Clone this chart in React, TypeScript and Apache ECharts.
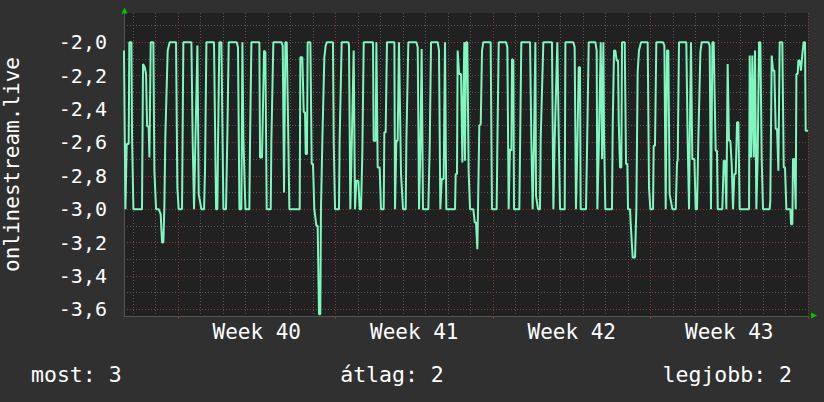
import React, { useEffect, useRef } from "react";
import * as echarts from "echarts";

// ---- data (hours relative to Monday 00:00 of Week 40) ----
const seriesName = "onlinestream.live";
const xMinHour = -57.6;
const xMaxHour = 672;
const yMin = -3.64;
const yMax = -1.825;

const weekStartHours = [0, 168, 336, 504, 672];
const weekMidHours = [84, 252, 420, 588];
const weekLabels = ["Week 40", "Week 41", "Week 42", "Week 43"];
const dayHours = [
  -48, -24, 0, 24, 48, 72, 96, 120, 144, 168, 192, 216, 240, 264, 288, 312, 336,
  360, 384, 408, 432, 456, 480, 504, 528, 552, 576, 600, 624, 648, 672,
];
const yMajorValues = [-2.0, -2.2, -2.4, -2.6, -2.8, -3.0, -3.2, -3.4, -3.6];
const yMinorValues = [-1.9, -2.1, -2.3, -2.5, -2.7, -2.9, -3.1, -3.3, -3.5];
const legendTexts = ["most: 3", "átlag: 2", "legjobb: 2"];

const sampleHours = [
  -57.6, -56.1, -54.7, -52.6, -51.9, -49.7, -49.0, -47.6, -38.4, -37.3, -35.5, -34.1,
  -33.0, -31.3, -30.5, -29.1, -26.3, -25.2, -23.4, -20.6, -18.5, -17.0, -15.6, -14.5,
  -13.5, -11.0, -8.9, -2.1, -0.7, 0.7, 4.3, 5.7, 14.3, 15.7, 17.1, 18.5, 20.7, 22.1,
  24.9, 27.8, 28.8, 30.3, 38.4, 40.6, 42.0, 42.7, 44.1, 46.3, 48.4, 51.2, 52.7, 54.1,
  62.6, 64.0, 65.5, 67.6, 68.7, 69.7, 71.9, 76.1, 76.8, 78.3, 86.8, 87.5, 89.6, 91.8,
  93.2, 94.6, 98.9, 99.6, 101.7, 110.3, 111.7, 113.1, 114.5, 116.0, 117.4, 118.8,
  129.8, 130.5, 132.6, 134.1, 135.5, 136.2, 137.6, 138.3, 141.2, 142.6, 144.0, 145.4,
  146.1, 147.6, 149.0, 150.4, 151.8, 152.5, 154.0, 156.1, 157.5, 158.9, 165.3, 166.1,
  167.5, 171.7, 172.4, 174.6, 181.7, 182.4, 183.8, 185.3, 187.4, 188.8, 190.2, 192.4,
  193.8, 195.2, 196.6, 198.1, 208.0, 208.7, 210.9, 211.6, 213.0, 215.1, 216.5, 219.4,
  220.1, 221.5, 222.9, 230.8, 231.5, 232.9, 234.3, 235.7, 237.9, 240.0, 242.9, 243.6,
  245.7, 254.2, 255.7, 257.1, 258.5, 259.9, 261.3, 267.0, 268.5, 269.9, 277.0, 278.4,
  279.8, 281.3, 283.4, 284.8, 286.2, 295.5, 296.2, 297.6, 298.3, 299.8, 301.9, 303.3,
  305.4, 306.1, 307.2, 308.6, 310.0, 311.5, 315.0, 316.5, 317.9, 319.3, 320.0, 321.4,
  322.9, 324.3, 325.7, 333.5, 334.9, 339.9, 340.6, 341.3, 342.1, 349.9, 351.3, 352.7,
  354.1, 355.6, 356.3, 357.7, 358.4, 364.1, 364.8, 366.2, 375.5, 376.9, 378.3, 379.7,
  381.2, 381.9, 384.0, 386.1, 386.9, 389.7, 398.9, 400.4, 401.8, 404.6, 406.1, 407.5,
  412.5, 413.2, 421.7, 423.1, 424.5, 426.0, 427.4, 428.8, 429.5, 435.2, 436.6, 438.1,
  445.2, 446.6, 447.3, 448.7, 450.9, 452.3, 453.7, 454.4, 455.8, 462.9, 463.7, 465.1,
  466.5, 467.9, 469.4, 470.1, 471.5, 472.9, 473.6, 476.5, 477.9, 479.3, 480.0, 482.2,
  482.9, 485.0, 487.5, 488.9, 490.3, 491.7, 493.9, 501.0, 502.4, 503.8, 506.7, 507.4,
  508.8, 510.2, 517.3, 518.8, 520.2, 521.6, 523.0, 524.4, 527.3, 530.9, 532.3, 533.0,
  534.4, 542.2, 543.7, 545.1, 545.8, 547.2, 548.6, 550.8, 552.2, 553.6, 555.0, 557.2,
  558.6, 565.7, 567.1, 568.5, 570.0, 571.4, 573.5, 574.9, 575.7, 580.6, 582.1, 583.5,
  584.9, 586.3, 587.7, 589.2, 590.6, 592.0, 593.4, 594.9, 596.3, 597.7, 599.1, 609.1,
  609.8, 611.2, 612.6, 614.1, 615.5, 616.9, 618.3, 619.8, 621.2, 622.6, 624.0, 631.1,
  631.8, 633.3, 634.7, 636.1, 637.5, 639.0, 640.4, 641.8, 644.6, 646.1, 647.5, 648.9,
  653.2, 653.9, 655.3, 656.0, 657.4, 658.9, 659.6, 661.0, 661.7, 663.1, 664.5, 666.0,
  667.4, 668.8, 669.5, 672.0,
];

const sampleValues = [
  -2.05, -3.0, -2.61, -2.61, -2.0, -2.0, -2.57, -3.0, -3.0, -2.13, -2.15, -2.19,
  -2.5, -2.51, -2.69, -2.0, -2.0, -2.77, -3.0, -3.0, -3.03, -3.2, -3.2, -2.97,
  -2.56, -2.05, -2.0, -2.0, -2.87, -3.0, -3.0, -2.0, -2.0, -2.61, -3.0, -2.61, -2.02, -2.91,
  -3.0, -3.0, -2.77, -2.0, -2.0, -3.0, -3.0, -2.61, -2.0, -2.0, -3.0, -3.0, -2.54, -2.0,
  -2.0, -2.03, -3.0, -3.0, -2.0, -2.57, -3.0, -3.0, -2.61, -2.0, -2.0, -2.69, -2.69, -2.05,
  -2.06, -3.0, -3.0, -2.59, -2.0, -2.0, -2.02, -2.9, -2.0, -2.0, -2.49, -3.0,
  -3.0, -2.09, -2.09, -2.42, -2.42, -2.67, -2.67, -2.0, -2.0, -2.73, -2.73, -3.0,
  -3.0, -3.1, -3.1, -3.63, -3.63, -3.0, -2.58, -2.09, -2.02, -2.0, -2.0, -2.6,
  -3.0, -3.0, -2.59, -2.0, -2.0, -2.02, -3.0, -2.62, -2.05, -3.0, -2.83, -2.83,
  -3.0, -3.0, -2.67, -2.0, -2.0, -2.59, -2.59, -2.0, -2.75, -2.75, -3.0, -3.0,
  -2.54, -2.54, -2.0, -2.0, -3.0, -2.59, -2.59, -2.0, -2.79, -3.0, -3.0, -2.59,
  -2.0, -2.0, -2.03, -3.0, -2.64, -2.04, -3.0, -3.0, -2.62, -2.0, -2.0, -2.05,
  -3.0, -2.82, -2.82, -2.0, -3.0, -3.0, -2.79, -2.79, -2.05, -2.19, -2.19, -2.72,
  -2.0, -2.71, -2.0, -2.0, -2.77, -3.0, -3.0, -3.08, -3.08, -3.24, -3.0, -2.5,
  -2.49, -2.05, -2.0, -2.0, -3.0, -3.0, -2.64, -2.64, -2.0, -2.0, -2.03, -3.0,
  -2.64, -2.65, -2.1, -2.11, -3.0, -3.0, -2.67, -2.0, -2.0, -2.59, -3.0, -2.6,
  -2.0, -2.92, -3.0, -3.0, -2.57, -2.0, -2.0, -3.0, -2.59, -2.0, -2.55, -3.0,
  -3.0, -2.0, -2.0, -2.03, -3.0, -2.62, -2.15, -2.15, -3.0, -3.0, -2.54, -2.0,
  -2.0, -2.05, -3.0, -2.67, -2.0, -2.7, -2.0, -2.53, -3.0, -3.0, -2.49, -2.05,
  -2.05, -2.11, -2.11, -2.47, -2.75, -2.75, -2.0, -2.0, -2.73, -2.73, -3.0, -3.0,
  -3.09, -3.29, -3.29, -3.0, -2.18, -2.05, -2.0, -2.0, -2.87, -3.0, -3.0, -2.62,
  -2.62, -2.0, -2.0, -2.02, -3.0, -2.05, -2.05, -2.91, -3.0, -3.0, -2.72, -2.71,
  -2.0, -2.0, -2.61, -3.0, -2.62, -2.0, -2.7, -2.7, -3.0, -3.0, -2.59, -2.06,
  -2.0, -2.0, -2.02, -3.0, -2.0, -2.0, -2.65, -2.65, -3.0, -3.0, -2.71, -2.71,
  -3.0, -2.13, -2.59, -2.59, -2.73, -3.0, -2.79, -2.79, -2.48, -2.48, -3.0, -3.0,
  -2.08, -2.69, -2.08, -2.69, -2.05, -3.0, -2.69, -2.0, -2.0, -2.7, -3.0, -3.0,
  -2.95, -2.08, -2.17, -2.17, -2.52, -2.52, -2.77, -2.0, -2.0, -2.75, -2.75, -3.0,
  -3.0, -3.09, -3.09, -2.7, -2.7, -3.0, -2.19, -2.19, -2.11, -2.11, -2.17, -2.07,
  -2.0, -2.0, -2.53, -2.53,
];

// ---- styles ----
const FONT = "DejaVu Sans Mono";
const BG = "#303030";
const PLOT_BG = "#212121";
const LINE = "#7ff7bf";
const MINOR = "#5a5a5a";
const MAJOR = "#8a3838";
const AXIS = "#555555";
const ARROW = "#00c800";

const near = (a: number, b: number) => Math.abs(a - b) < 1e-6;

export default function App() {
  const ref = useRef<HTMLDivElement>(null);

  useEffect(() => {
    if (!ref.current) return;
    const chart = echarts.init(ref.current, undefined, { renderer: "svg" });
    const data = sampleHours.map((h, i) => [h, sampleValues[i]]);
    const minorDays = dayHours.filter((h) => !weekStartHours.some((w) => near(w, h)));

    chart.setOption({
      animation: false,
      backgroundColor: BG,
      textStyle: { fontFamily: FONT },
      grid: {
        left: 124,
        right: 16,
        top: 13,
        bottom: 86,
        show: true,
        backgroundColor: PLOT_BG,
        borderWidth: 0,
        containLabel: false,
        outerBoundsMode: "none",
      },
      xAxis: [
        {
          type: "value",
          min: xMinHour,
          max: xMaxHour,
          position: "bottom",
          axisLine: { show: true, onZero: false, lineStyle: { color: AXIS, width: 1 } },
          axisTick: { show: false, customValues: minorDays },
          axisLabel: { show: false },
          splitLine: { show: true, lineStyle: { color: MINOR, type: [1, 2], width: 1 } },
        },
        {
          type: "value",
          min: xMinHour,
          max: xMaxHour,
          position: "bottom",
          axisLine: { show: false, onZero: false },
          axisTick: {
            show: true,
            customValues: weekStartHours,
            length: 3,
            lineStyle: { color: MAJOR, width: 1 },
          },
          axisLabel: {
            show: true,
            customValues: weekMidHours,
            margin: 5,
            color: "#ffffff",
            fontFamily: FONT,
            fontSize: 21,
            formatter: (v: number) => {
              const i = weekMidHours.findIndex((m) => near(m, v));
              return i >= 0 ? weekLabels[i] : "";
            },
          },
          splitLine: { show: true, lineStyle: { color: MAJOR, type: [1, 2], width: 1 } },
        },
      ],
      yAxis: [
        {
          type: "value",
          min: yMin,
          max: yMax,
          position: "left",
          name: seriesName,
          nameLocation: "middle",
          nameRotate: 90,
          nameGap: 102,
          nameTextStyle: { color: "#ffffff", fontSize: 21, lineHeight: 21, fontFamily: FONT },
          axisLine: { show: true, onZero: false, lineStyle: { color: AXIS, width: 1 } },
          axisTick: { show: false, customValues: yMinorValues },
          axisLabel: { show: false },
          splitLine: { show: true, lineStyle: { color: MINOR, type: [1, 2], width: 1 } },
        },
        {
          type: "value",
          min: yMin,
          max: yMax,
          position: "left",
          axisLine: { show: false, onZero: false },
          axisTick: { show: false, customValues: yMajorValues },
          axisLabel: {
            show: true,
            customValues: yMajorValues,
            margin: 17,
            color: "#ffffff",
            fontFamily: FONT,
            fontSize: 20,
            formatter: (v: number) => v.toFixed(1).replace(".", ","),
          },
          splitLine: { show: true, lineStyle: { color: MAJOR, type: [1, 2], width: 1 } },
        },
      ],
      graphic: [
        {
          type: "polygon",
          silent: true,
          shape: { points: [[121.5, 13.5], [127.5, 13.5], [124.5, 7.5]] },
          style: { fill: ARROW },
        },
        {
          type: "polygon",
          silent: true,
          shape: { points: [[811, 312.5], [811, 318.5], [817, 315.5]] },
          style: { fill: ARROW },
        },
        {
          type: "text",
          x: 31,
          y: 374,
          style: {
            text: legendTexts[0],
            fill: "#ffffff",
            font: `21.5px "${FONT}"`,
            textAlign: "left",
            textVerticalAlign: "middle",
          },
        },
        {
          type: "text",
          x: 392,
          y: 374,
          style: {
            text: legendTexts[1],
            fill: "#ffffff",
            font: `21.5px "${FONT}"`,
            textAlign: "center",
            textVerticalAlign: "middle",
          },
        },
        {
          type: "text",
          x: 792,
          y: 374,
          style: {
            text: legendTexts[2],
            fill: "#ffffff",
            font: `21.5px "${FONT}"`,
            textAlign: "right",
            textVerticalAlign: "middle",
          },
        },
      ],
      series: [
        {
          name: seriesName,
          type: "line",
          xAxisIndex: 0,
          yAxisIndex: 0,
          data,
          showSymbol: false,
          symbol: "none",
          lineStyle: { color: LINE, width: 2 },
          itemStyle: { color: LINE },
          clip: true,
          z: 5,
        },
      ],
    });

    return () => chart.dispose();
  }, []);

  return (
    <div
      ref={ref}
      style={{ position: "fixed", left: 0, top: 0, width: 824, height: 402 }}
    />
  );
}
